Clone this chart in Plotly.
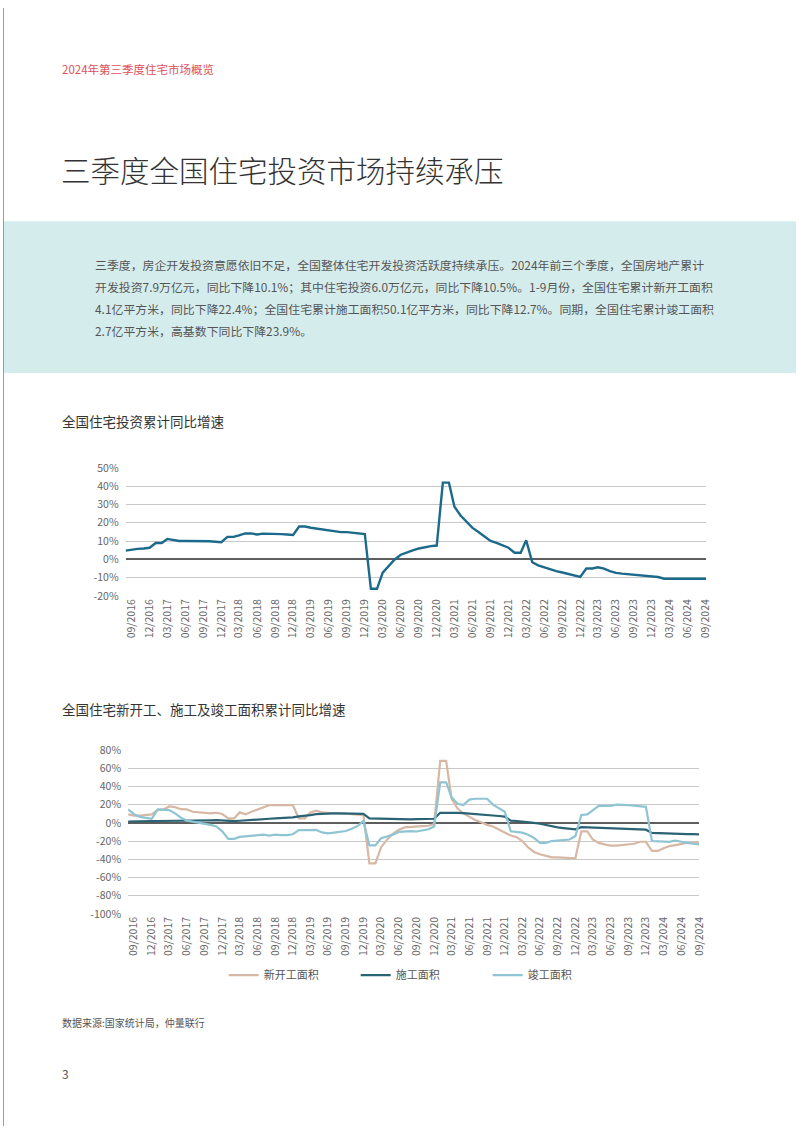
import pandas as pd
import plotly.graph_objects as go

W, H = 802, 1133

# ---------------- data ----------------
start_month = "2016-08-01"
n_months = 98

invest_yoy = [4.8, 5.4, 5.8, 6.0, 6.4,
              9.0, 9.0, 11.2, 10.6, 10.1, 10.1, 10.1, 10.3, 10.2, 9.9, 9.7, 9.4,
              12.3, 12.3, 13.1, 14.2, 14.2, 13.6, 14.1, 14.1, 14.0, 13.8, 13.6, 13.4,
              18.0, 18.0, 17.3, 16.8, 16.3, 15.8, 15.1, 14.9, 14.9, 14.6, 14.4, 13.9,
              -16.0, -16.0, -7.2, -3.3, 0.0, 2.6, 4.0, 5.0, 6.0, 6.8, 7.3, 7.6,
              41.9, 41.9, 28.8, 24.0, 20.4, 17.2, 15.0, 12.5, 10.1, 9.0, 7.6, 6.4,
              3.7, 3.7, 10.5, -1.5, -3.2, -4.4, -5.6, -6.4, -7.1, -7.8, -8.6, -9.5,
              -4.9, -4.9, -4.3, -5.0, -6.4, -7.3, -7.7, -8.0, -8.4, -8.7, -9.0, -9.3,
              -9.6, -10.5, -10.5, -10.5, -10.6, -10.4, -10.6, -10.5, -10.5]

new_starts = [9.3, 7.9, 7.9, 8.6, 9.3,
              14.0, 14.7, 18.0, 17.2, 15.0, 14.7, 12.2, 11.5, 11.5, 10.4, 11.1, 9.7,
              5.0, 5.0, 11.5, 9.3, 12.2, 14.4, 17.2, 19.4, 19.4, 19.4, 19.4, 19.4,
              5.0, 5.0, 11.5, 13.3, 11.5, 10.8, 10.5, 10.0, 10.0, 9.5, 9.0, 8.5,
              -44.5, -44.5, -27.0, -18.5, -12.0, -7.6, -5.0, -4.3, -4.3, -3.6, -3.2, -1.4,
              68.0, 68.0, 26.5, 15.8, 10.4, 6.8, 3.2, 0.7, -2.2, -4.0, -7.5, -10.4,
              -14.0, -15.8, -20.0, -27.0, -32.0, -34.5, -36.0, -38.0, -38.0, -38.5, -38.5, -39.0,
              -9.3, -9.3, -18.3, -22.0, -23.7, -25.0, -25.0, -24.4, -23.7, -23.0, -20.8, -20.8,
              -30.9, -30.9, -28.0, -25.5, -24.4, -23.0, -22.0, -22.0, -22.0]

under_construction = [1.5, 1.8, 1.8, 1.9, 1.9,
                      2.0, 2.0, 2.2, 2.4, 2.4, 2.5, 2.5, 2.6, 2.7, 2.8, 2.9, 2.5,
                      2.0, 2.0, 2.3, 2.6, 3.0, 3.5, 4.0, 4.5, 5.0, 5.2, 5.5, 6.0,
                      7.2, 7.5, 8.5, 9.5, 10.0, 10.2, 10.4, 10.3, 10.2, 10.4, 10.5, 9.8,
                      5.0, 4.8, 4.3, 4.0, 3.8, 3.6, 3.6, 3.8, 4.0, 4.0, 4.2, 4.5,
                      11.0, 11.2, 11.2, 11.0, 10.7, 10.3, 9.8, 9.2, 8.6, 8.1, 7.5, 6.8,
                      2.5, 2.0, 1.5, 1.0, 0.0, -1.0, -2.5, -4.0, -5.0, -5.8, -6.5, -7.2,
                      -4.8, -5.0, -5.3, -5.7, -6.0, -6.3, -6.5, -6.7, -6.9, -7.1, -7.3, -7.5,
                      -11.0, -11.1, -11.3, -11.6, -11.8, -12.0, -12.3, -12.5, -12.7]

completions = [14.7, 9.5, 6.5, 5.5, 4.5,
               14.7, 14.7, 14.0, 10.4, 5.7, 2.5, 1.4, 0.7, -0.4, -2.2, -4.0, -9.3,
               -17.6, -17.6, -15.4, -14.7, -14.4, -14.0, -13.0, -14.0, -13.0, -13.5, -13.5, -12.5,
               -8.0, -8.0, -8.0, -7.8, -10.5, -11.5, -10.8, -10.0, -9.0, -6.5, -3.5, 2.0,
               -24.8, -24.8, -17.0, -15.0, -13.0, -10.0, -9.5, -9.0, -9.5, -8.6, -7.0, -4.0,
               44.5, 44.5, 28.0, 21.0, 19.5, 25.5, 26.5, 26.5, 26.5, 20.0, 16.5, 12.2,
               -9.3, -10.0, -10.8, -13.0, -16.5, -22.0, -22.0, -20.0, -19.4, -18.7, -18.3, -14.7,
               8.6, 9.3, 14.0, 18.7, 18.7, 18.7, 20.1, 19.4, 19.4, 19.0, 18.7, 17.6,
               -20.0, -20.1, -20.8, -20.8, -19.4, -21.0, -22.0, -23.0, -23.7]

series_names = ["新开工面积", "施工面积", "竣工面积"]

y1_ticks = [-20, -10, 0, 10, 20, 30, 40, 50]
y2_ticks = [-100, -80, -60, -40, -20, 0, 20, 40, 60, 80]

header_text = "2024年第三季度住宅市场概览"
page_title = "三季度全国住宅投资市场持续承压"
paragraph_lines = [
    "三季度，房企开发投资意愿依旧不足，全国整体住宅开发投资活跃度持续承压。2024年前三个季度，全国房地产累计",
    "开发投资7.9万亿元，同比下降10.1%；其中住宅投资6.0万亿元，同比下降10.5%。1-9月份，全国住宅累计新开工面积",
    "4.1亿平方米，同比下降22.4%；全国住宅累计施工面积50.1亿平方米，同比下降12.7%。同期，全国住宅累计竣工面积",
    "2.7亿平方米，高基数下同比下降23.9%。",
]
chart1_title = "全国住宅投资累计同比增速"
chart2_title = "全国住宅新开工、施工及竣工面积累计同比增速"
source_text = "数据来源:国家统计局，仲量联行"
page_number = "3"

# ---------------- derived ----------------
months = pd.date_range(start_month, periods=n_months, freq="MS")
x_tickvals = pd.date_range("2016-09-01", "2024-09-01", freq="3MS")
x_ticktext = [d.strftime("%m/%Y") for d in x_tickvals]

CJK = "Noto Sans CJK SC, Noto Sans, sans-serif"
GRID = "#c8c8c8"
ZERO = "#5e5e5e"
TICKC = "#666666"

def px(x):
    return x / W

def py(y):
    return 1 - y / H

fig = go.Figure()

fig.add_trace(go.Scatter(x=months, y=invest_yoy, mode="lines",
                         line=dict(color="#1c6a8b", width=2.4),
                         xaxis="x", yaxis="y", showlegend=False))

colors2 = ["#d6b8a4", "#2a6373", "#8fc4d3"]
for name, vals, c in zip(series_names, [new_starts, under_construction, completions], colors2):
    fig.add_trace(go.Scatter(x=months, y=vals, mode="lines", name=name,
                             line=dict(color=c, width=2.2),
                             xaxis="x2", yaxis="y2"))

xcommon = dict(type="date", tickvals=list(x_tickvals), ticktext=x_ticktext,
               tickangle=-90, tickfont=dict(family=CJK, size=10.5, color=TICKC),
               showgrid=False, zeroline=False, showline=False, ticks="",
               range=[months[0], months[-1]])
ycommon = dict(showgrid=True, gridcolor=GRID, gridwidth=1.2, zeroline=True,
               zerolinecolor=ZERO, zerolinewidth=1.6, showline=False, ticks="",
               tickfont=dict(family=CJK, size=10.5, color=TICKC), ticklabelstandoff=6)

fig.update_layout(
    width=W, height=H, autosize=False,
    margin=dict(l=0, r=0, t=0, b=0),
    paper_bgcolor="white", plot_bgcolor="white",
    font=dict(family=CJK, color="#444"),
    xaxis=dict(domain=[px(124), px(711)], anchor="y", **xcommon),
    yaxis=dict(domain=[py(596), py(466)], anchor="x", range=[-20, 50],
               tickvals=y1_ticks, ticktext=[f"{v}%" for v in y1_ticks], **ycommon),
    xaxis2=dict(domain=[px(126.5), px(704)], anchor="y2", **xcommon),
    yaxis2=dict(domain=[py(918), py(752)], anchor="x2", range=[-100, 80],
                tickvals=y2_ticks, ticktext=[f"{v}%" for v in y2_ticks], **ycommon),
    showlegend=True,
    legend=dict(orientation="h", x=0.528, xanchor="center", y=py(980), yanchor="middle",
                font=dict(family=CJK, size=11, color="#555"), itemwidth=30,
                entrywidth=87, entrywidthmode="pixels", bgcolor="rgba(0,0,0,0)"),
)

shapes = [
    dict(type="rect", xref="paper", yref="paper", x0=0, x1=1, y0=py(370), y1=py(216),
         fillcolor="#d5ecec", line=dict(width=0), layer="below"),
    dict(type="line", xref="paper", yref="paper", x0=px(0.5), x1=px(0.5), y0=0, y1=1,
         line=dict(color="#9a9a9a", width=1)),
]
fig.update_layout(shapes=shapes)

ann = []
def text(t, x, y, size, color, weight=None):
    f = dict(family=CJK, size=size, color=color)
    if weight:
        f["weight"] = weight
    ann.append(dict(text=t, xref="paper", yref="paper", x=px(x), y=py(y),
                    xanchor="left", yanchor="middle", showarrow=False, font=f))

text(header_text, 58, 62, 11.5, "#e0505a")
text(page_title, 57, 163, 29.5, "#333333", weight=300)
for i, line in enumerate(paragraph_lines):
    text(line, 91, 260 + i * 22.3, 11.9, "#555555")
text(chart1_title, 58, 419, 13.5, "#333333")
text(chart2_title, 58, 710, 13.5, "#333333")
text(source_text, 58, 1028, 10, "#555555")
text(page_number, 58, 1080, 12, "#555555")
fig.update_layout(annotations=ann)

fig.write_html("out.html")
